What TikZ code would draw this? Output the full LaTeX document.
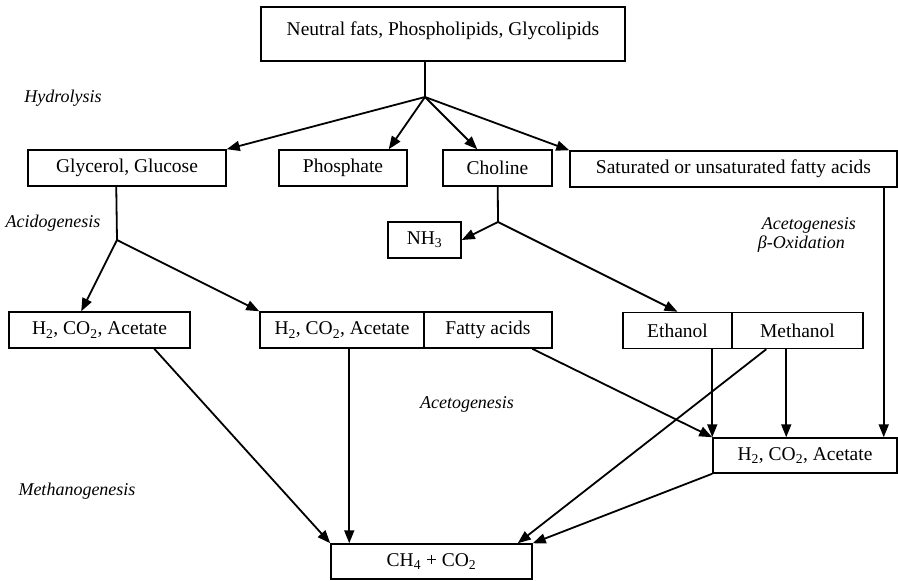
\documentclass[tikz,border=0pt]{standalone}
\usepackage{fontspec}
\setmainfont{Liberation Serif}
\usetikzlibrary{arrows.meta,calc}
\begin{document}
\begin{tikzpicture}[x=1pt,y=-1pt,
  line width=1.8pt,
  box/.style={draw,rectangle,inner sep=0pt,minimum height=36pt,line width=1.5pt,
    font=\fontsize{19.5}{22}\selectfont},
  stage/.style={font=\fontsize{18}{20}\selectfont\itshape,inner sep=0pt},
  arr/.style={-{Triangle[length=13pt,width=10pt]}}]
\useasboundingbox (0,0) rectangle (898,581);

% substrates
\node[box,minimum width=364pt,minimum height=54pt,text height=13.5pt,text depth=11.5pt]
  (top) at (443,34) {Neutral fats, Phospholipids, Glycolipids};

% hydrolysis products
\node[box,minimum width=198pt] (glyc) at (127,168) {Glycerol, Glucose};
\node[box,minimum width=128pt] (phos) at (343,168) {Phosphate};
\node[box,minimum width=109pt] (chol) at (497.5,168) {Choline};
\node[box,minimum width=327pt] (sat) at (733.5,169) {Saturated or unsaturated fatty acids};
\node[box,minimum width=73pt] (nh3) at (424.5,240) {NH\textsubscript{3}};

% intermediates
\node[box,minimum width=181pt] (h2a) at (99.5,330) {H\textsubscript{2}, CO\textsubscript{2}, Acetate};
\node[box,minimum width=164pt] (h2b) at (342,330) {H\textsubscript{2}, CO\textsubscript{2}, Acetate};
\node[box,minimum width=128pt] (fatty) at (488,330) {Fatty acids};
\node[box,minimum width=109pt] (eth) at (677.5,330.5) {Ethanol};
\node[box,minimum width=131pt] (meth) at (797.5,330.5) {Methanol};
\node[box,minimum width=184pt,minimum height=35pt] (h2c) at (805,455.5) {H\textsubscript{2}, CO\textsubscript{2}, Acetate};

% end products
\node[box,minimum width=201pt,minimum height=35pt] (ch4) at (431.5,561.5) {CH\textsubscript{4} + CO\textsubscript{2}};

% stage labels
\node[stage] (lhyd) at (63,98) {Hydrolysis};
\node[stage] (lacid) at (53,223) {Acidogenesis};
\node[stage,anchor=west] (lacet1) at (761,225) {Acetogenesis};
\node[stage,anchor=west] (lbeta) at (757,244) {β-Oxidation};
\node[stage] (lacet2) at (467,404) {Acetogenesis};
\node[stage] (lmeth) at (77,491) {Methanogenesis};

% branch points
\coordinate (j1) at (425,97);
\coordinate (j2) at (117,240);
\coordinate (j3) at (498,222);

% hydrolysis
\draw ($(top.south)+(-18,0)$) -- (j1);
\draw[arr] (j1) -- (glyc.north east);
\draw[arr] (j1) -- ($(phos.north east)+(-19,0)$);
\draw[arr] (j1) -- ($(chol.north west)+(35,0)$);
\draw[arr] (j1) -- (sat.north west);

% acidogenesis
\draw ($(glyc.south west)+(89,0)$) -- (j2);
\draw[arr] (j2) -- ($(h2a.north west)+(73,0)$);
\draw[arr] (j2) -- (h2b.north west);

% choline breakdown
\draw ($(chol.south west)+(55.5,0)$) -- (j3);
\draw[arr] (j3) -- (nh3.east);
\draw[arr] (j3) -- (eth.north);

% acetogenesis
\draw[arr] ($(sat.south east)+(-14,0)$) -- ($(h2c.north east)+(-14,0)$);
\draw[arr] ($(fatty.south west)+(109,0)$) -- (h2c.north west);
\draw[arr] ($(eth.south west)+(90,0)$) -- (h2c.north west);
\draw[arr] ($(meth.south west)+(55,0)$) -- ($(h2c.north west)+(74,0)$);

% methanogenesis
\draw[arr] ($(h2a.south west)+(146,0)$) -- (ch4.north west);
\draw[arr] ($(h2b.south west)+(90,0)$) -- ($(ch4.north west)+(19,0)$);
\draw[arr] ($(meth.south west)+(35,0)$) -- ($(ch4.north east)+(-15,0)$);
\draw[arr] (h2c.south west) -- (ch4.north east);
\end{tikzpicture}
\end{document}
